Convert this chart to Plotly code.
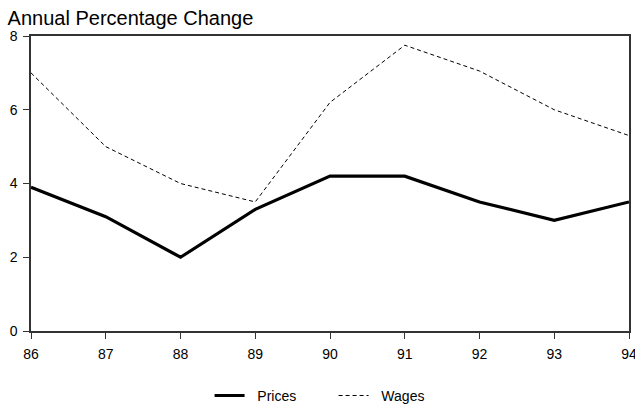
import plotly.graph_objects as go

years = [86, 87, 88, 89, 90, 91, 92, 93, 94]
prices = [3.9, 3.1, 2.0, 3.3, 4.2, 4.2, 3.5, 3.0, 3.5]
wages = [7.0, 5.0, 4.0, 3.5, 6.2, 7.75, 7.05, 6.0, 5.3]
x_ticks = [86, 87, 88, 89, 90, 91, 92, 93, 94]
y_ticks = [0, 2, 4, 6, 8]

fig = go.Figure()
fig.add_trace(go.Scatter(x=years, y=prices, mode="lines", name="\u00a0\u00a0Prices",
                         line=dict(color="black", width=3.2)))
fig.add_trace(go.Scatter(x=years, y=wages, mode="lines", name="\u00a0\u00a0Wages",
                         line=dict(color="black", width=1, dash="4px,3px")))

font = "Liberation Sans, Arial, sans-serif"
fig.update_layout(
    width=635, height=406,
    margin=dict(l=31, r=6, t=36, b=75, autoexpand=False),
    paper_bgcolor="white", plot_bgcolor="white",
    font=dict(family=font, size=14, color="black"),
    title=dict(text="Annual Percentage Change", x=0.012, xanchor="left", xref="container",
               pad=dict(l=0), y=0.955, yanchor="middle",
               font=dict(size=20, family=font, color="black")),
    showlegend=True,
    legend=dict(orientation="h", x=0.506, xanchor="center", y=-0.22, yanchor="middle",
                font=dict(size=14), itemwidth=30, entrywidth=79, entrywidthmode="pixels",
                bgcolor="rgba(0,0,0,0)"),
)
fig.update_xaxes(range=[86, 94], tickvals=x_ticks, ticktext=[str(t) for t in x_ticks],
                 showgrid=False, zeroline=False, showline=True, linecolor="#333",
                 linewidth=1.5, mirror=True, ticks="outside", ticklen=6, tickcolor="#333",
                 tickfont=dict(size=14), automargin=False, ticklabeloverflow="allow",
                 ticklabelstandoff=3)
fig.update_yaxes(range=[0, 8], tickvals=y_ticks, showgrid=False, zeroline=False,
                 showline=True, linecolor="#333", linewidth=1.5, mirror=True,
                 ticks="outside", ticklen=6, tickcolor="#333", tickfont=dict(size=14),
                 automargin=False, ticklabelstandoff=3)

fig.write_html("out.html", config={"responsive": False, "displayModeBar": False},
               post_script="document.body.style.margin='0';document.body.style.overflow='hidden';")
